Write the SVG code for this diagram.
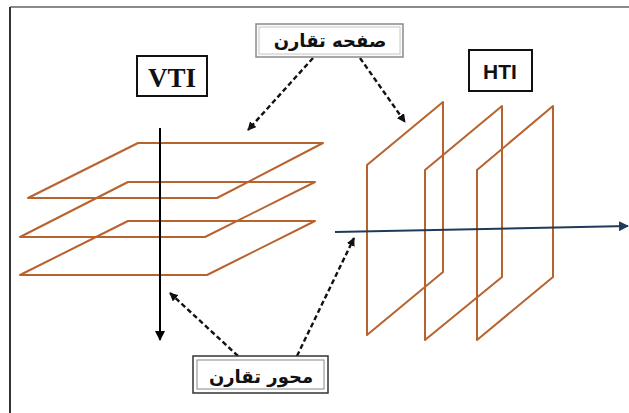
<svg xmlns="http://www.w3.org/2000/svg" width="629" height="413" viewBox="0 0 629 413">
<defs>
<style>
.plane{fill:none;stroke:#b8622d;stroke-width:2;stroke-linejoin:round}
.dash{fill:none;stroke:#111;stroke-width:2.4;stroke-dasharray:5 3}
.ar{font-family:"DejaVu Sans",sans-serif;font-weight:bold;font-size:18px;fill:#111;text-anchor:middle}
</style>
<marker id="ah" viewBox="0 0 10 10" refX="9" refY="5" markerWidth="3.6" markerHeight="3.6" orient="auto" markerUnits="strokeWidth">
<path d="M0,0 L10,5 L0,10 Z" fill="#111"/>
</marker>
<marker id="ahb" viewBox="0 0 10 10" refX="9" refY="5" markerWidth="5" markerHeight="5" orient="auto" markerUnits="strokeWidth">
<path d="M0,0 L10,5 L0,10 Z" fill="#1f3b5a"/>
</marker>
<marker id="ahk" viewBox="0 0 10 10" refX="9" refY="5" markerWidth="5" markerHeight="5" orient="auto" markerUnits="strokeWidth">
<path d="M0,0 L10,5 L0,10 Z" fill="#000"/>
</marker>
</defs>
<rect width="629" height="413" fill="#fff"/>
<g id="frame">
<line x1="10" y1="7" x2="629" y2="7" stroke="#8a8a8a" stroke-width="2"/>
<line x1="10" y1="7" x2="10" y2="413" stroke="#333" stroke-width="2"/>
</g>
<g id="vti-planes">
<polygon class="plane" points="138,143 323,143 217,198 28,198"/>
<polygon class="plane" points="128,182 315,182 205,237 20,237"/>
<polygon class="plane" points="128,221 315,221 207,275 20,275"/>
</g>
<g id="vti-axis">
<line x1="160" y1="128" x2="160" y2="340" stroke="#000" stroke-width="2" marker-end="url(#ahk)"/>
</g>
<g id="hti-planes">
<polygon class="plane" points="367,165 443,102 443,272 367,335"/>
<polygon class="plane" points="425,170 502,106 502,277 425,340"/>
<polygon class="plane" points="477,170 553,106 553,277 477,340"/>
</g>
<g id="hti-axis">
<line x1="335" y1="232" x2="628" y2="226" stroke="#1f3b5a" stroke-width="2" marker-end="url(#ahb)"/>
</g>
<g id="connectors">
<line class="dash" x1="313" y1="58" x2="248" y2="130" marker-end="url(#ah)"/>
<line class="dash" x1="360" y1="58" x2="405" y2="122" marker-end="url(#ah)"/>
<line class="dash" x1="238" y1="356" x2="170" y2="293" marker-end="url(#ah)"/>
<line class="dash" x1="297" y1="356" x2="354" y2="238" marker-end="url(#ah)"/>
</g>
<g id="node-plane-label">
<rect x="256" y="24" width="147" height="33" fill="#fafafa" stroke="#8a8a8a" stroke-width="1.5"/>
<rect x="259" y="27" width="141" height="27" fill="#fff" stroke="#c8c8c8" stroke-width="1"/>
<text class="ar" x="330" y="47">صفحه تقارن</text>
</g>
<g id="node-vti">
<rect x="137" y="56" width="70" height="40" fill="#fff" stroke="#111" stroke-width="2"/>
<text x="172" y="87" font-family="Liberation Serif, serif" font-weight="bold" font-size="27" text-anchor="middle" fill="#111">VTI</text>
</g>
<g id="node-hti">
<rect x="469" y="50" width="63" height="41" fill="#fff" stroke="#111" stroke-width="2"/>
<text x="500" y="79" font-family="Liberation Sans, sans-serif" font-weight="bold" font-size="21" text-anchor="middle" fill="#111">HTI</text>
</g>
<g id="node-axis-label">
<rect x="193" y="356" width="135" height="37" fill="#fff" stroke="#333" stroke-width="1.5"/>
<rect x="197" y="360" width="127" height="29" fill="#fff" stroke="#888" stroke-width="1"/>
<text class="ar" x="261" y="383">محور تقارن</text>
</g>
</svg>
